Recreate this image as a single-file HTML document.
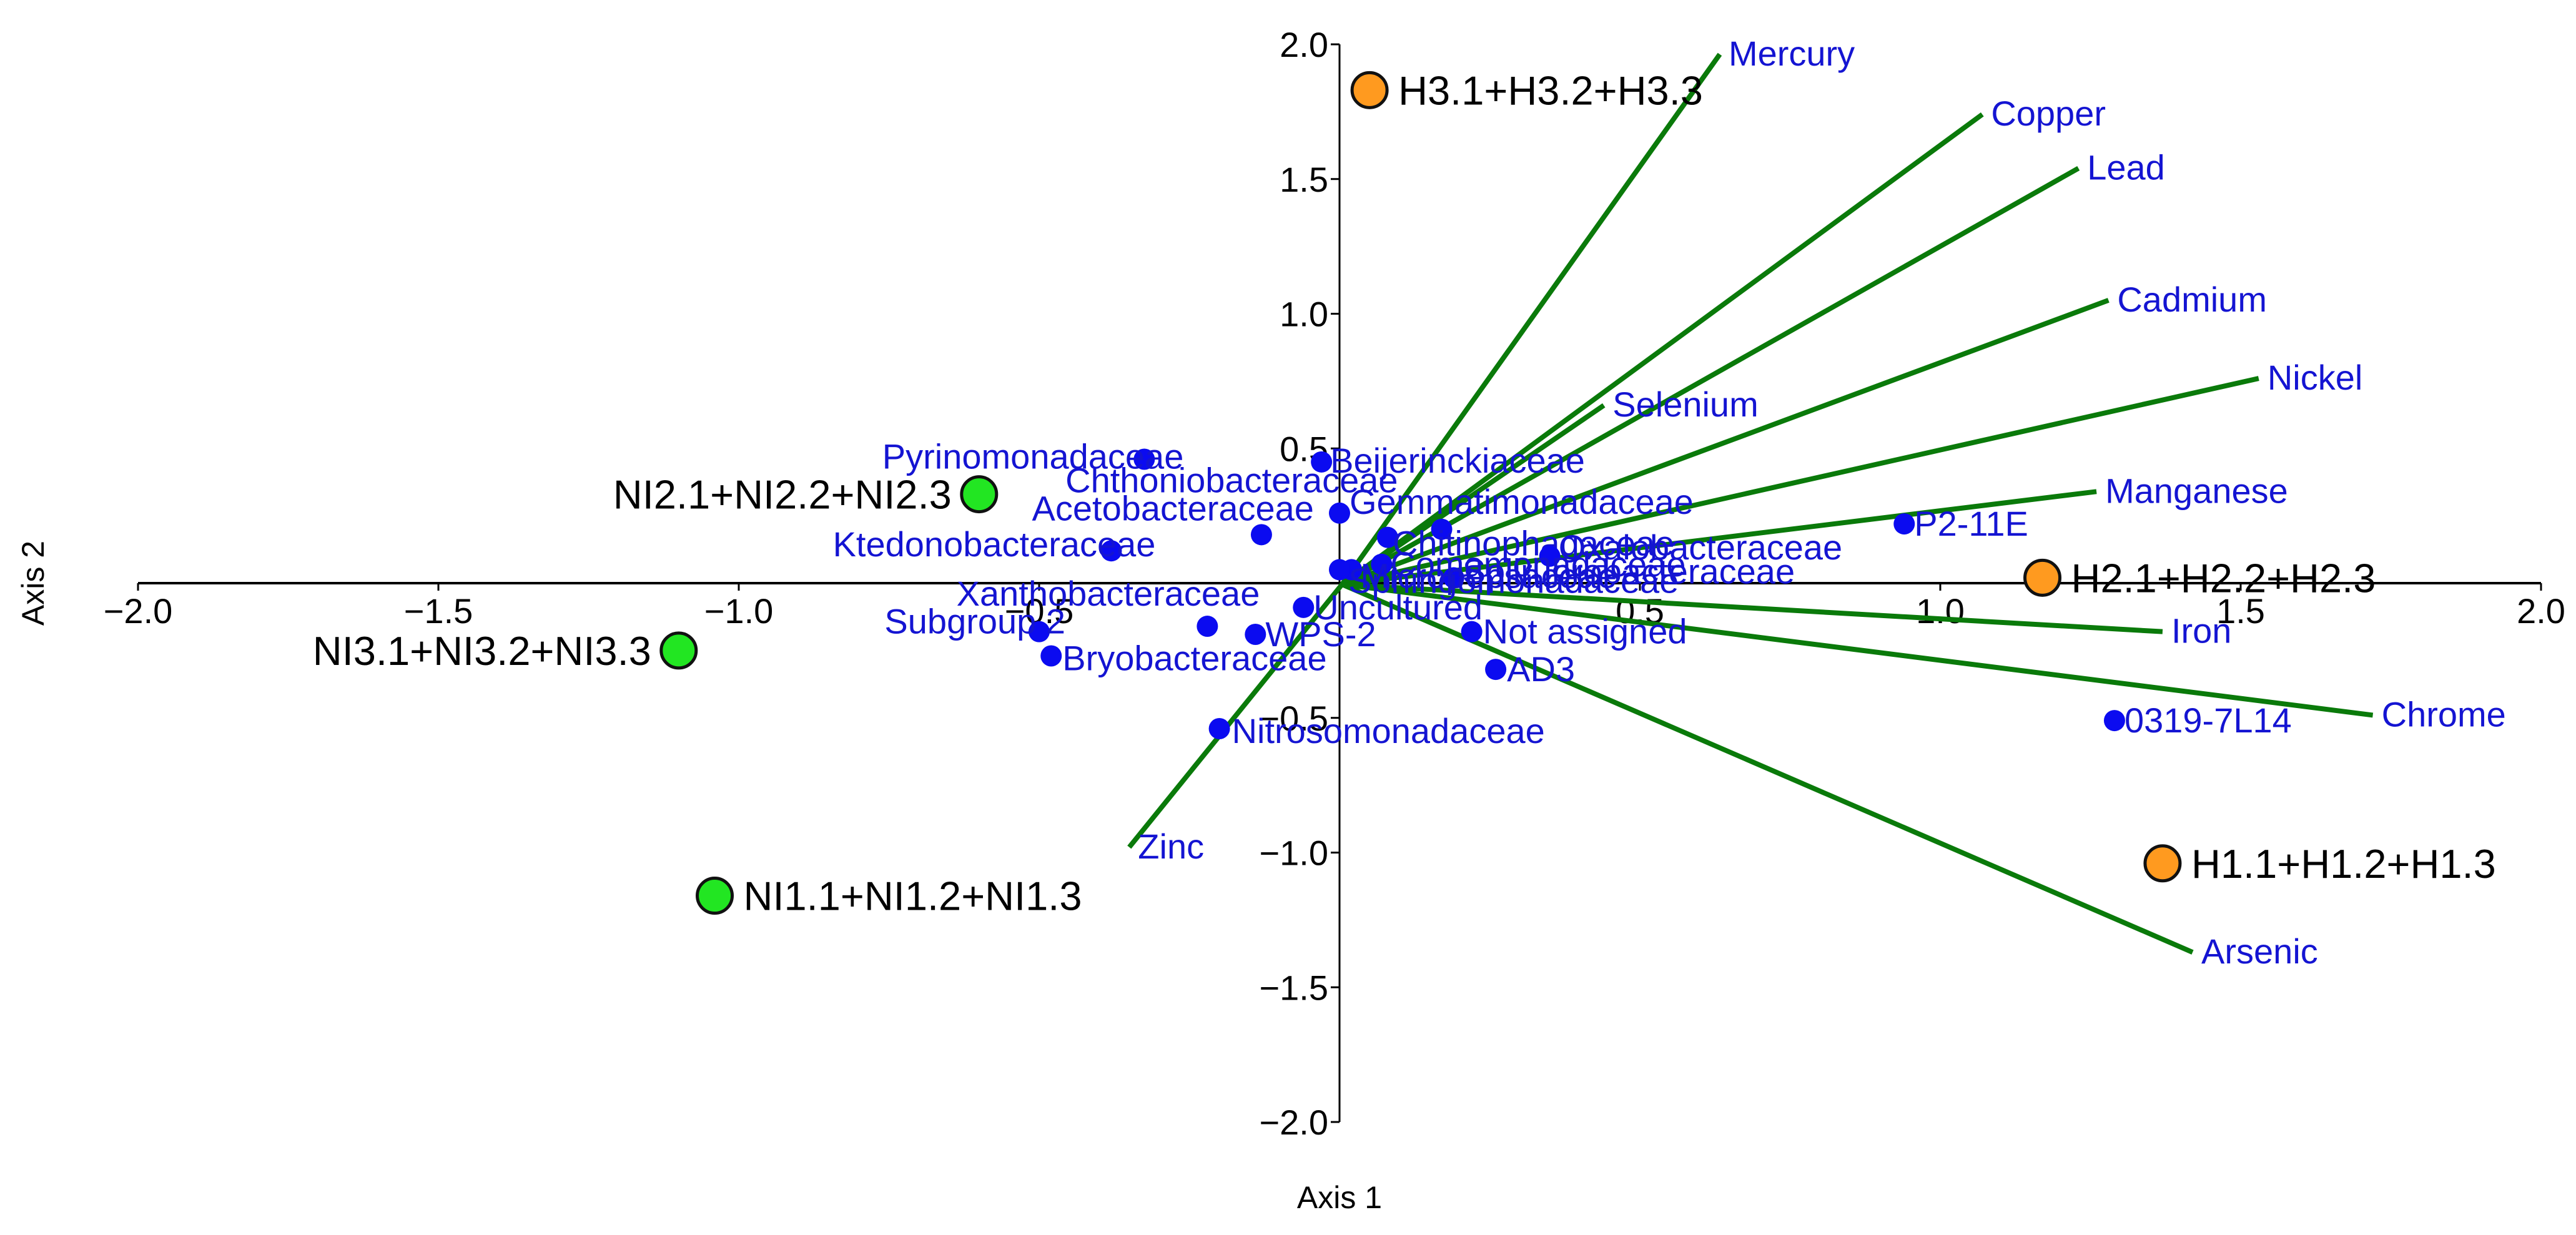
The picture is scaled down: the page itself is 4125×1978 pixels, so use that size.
<!DOCTYPE html>
<html><head><meta charset="utf-8"><style>
html,body{margin:0;padding:0;background:#fff;}
svg{display:block;font-family:"Liberation Sans",Arial,sans-serif;}
</style></head><body>
<svg id="chart" width="4125" height="1978" viewBox="0 0 4125 1978" xmlns="http://www.w3.org/2000/svg">
<g id="axes"></g>
<g id="vectors"></g>
<g id="points"></g>
<g id="groups"></g>
<text x="2145" y="1935" font-size="50" text-anchor="middle">Axis 1</text>
<text x="0" y="0" font-size="50" text-anchor="middle" transform="translate(70,934) rotate(-90)">Axis 2</text>
</svg>
<script>
const xTicks = [-2.0, -1.5, -1.0, -0.5, 0.5, 1.0, 1.5, 2.0];
const yTicks = [2.0, 1.5, 1.0, 0.5, -0.5, -1.0, -1.5, -2.0];
const vecNames = ["Mercury","Copper","Lead","Cadmium","Nickel","Selenium","Manganese","Iron","Chrome","Arsenic","Zinc"];
const vecX = [0.633, 1.07, 1.23, 1.28, 1.53, 0.44, 1.26, 1.37, 1.72, 1.42, -0.35];
const vecY = [1.963, 1.74, 1.54, 1.05, 0.76, 0.66, 0.34, -0.18, -0.49, -1.37, -0.98];
const ptNames = ["Pyrinomonadaceae","Beijerinckiaceae","Gemmatimonadaceae","Acetobacteraceae","Ktedonobacteraceae","Chthoniobacteraceae","Chitinophagaceae","Oxalobacteraceae","Solirubrobacteraceae","Comamonadaceae","Micropepsaceae","Sphingomonadaceae","Uncultured","WPS-2","Xanthobacteraceae","Subgroup 2","Bryobacteraceae","Nitrosomonadaceae","Not assigned","AD3","P2-11E","0319-7L14"];
const ptX = [-0.325, -0.03, 0.0, -0.13, -0.38, 0.17, 0.08, 0.35, 0.19, 0.07, 0.02, 0.0, -0.06, -0.14, -0.22, -0.5, -0.48, -0.2, 0.22, 0.26, 0.94, 1.29];
const ptY = [0.46, 0.45, 0.26, 0.18, 0.12, 0.20, 0.17, 0.10, 0.02, 0.07, 0.05, 0.05, -0.09, -0.19, -0.16, -0.18, -0.27, -0.54, -0.18, -0.32, 0.22, -0.51];
const grpNames = ["H3.1+H3.2+H3.3","H2.1+H2.2+H2.3","H1.1+H1.2+H1.3","NI2.1+NI2.2+NI2.3","NI3.1+NI3.2+NI3.3","NI1.1+NI1.2+NI1.3"];
const grpX = [0.05, 1.17, 1.37, -0.6, -1.1, -1.04];
const grpY = [1.83, 0.02, -1.04, 0.33, -0.25, -1.16];
const grpHeavy = [true, true, true, false, false, false];

// layout (label offsets in px, not data)
const ptLabelAnchor = ["end","start","start","end","end","end","start","start","start","start","start","start","start","start","end","end","start","start","start","start","start","start"];
const ptLabelDx = [63,14,16,84,71,-70,8,14,14,14,14,14,16,16,84,42,18,20,18,18,16,16];
const ptLabelDy = [-4,-2,-18,-42,-10,-78,10,-14,-10,0,10,18,0,0,-52,-16,4,4,0,0,0,0];

const NS = "http://www.w3.org/2000/svg";
const X0 = 2145, Y0 = 934, UX = 962, UY = 431.5;
const sx = v => X0 + v * UX;
const sy = v => Y0 - v * UY;
function mk(tag, attrs, parent){const e=document.createElementNS(NS,tag);for(const k in attrs)e.setAttribute(k,attrs[k]);parent.appendChild(e);return e;}

const axes = document.getElementById('axes');
let e = mk('line',{x1:sx(-2),y1:Y0,x2:sx(2),y2:Y0,stroke:'#000','stroke-width':4},axes);


e = mk('line',{x1:X0,y1:sy(2),x2:X0,y2:sy(-2),stroke:'#000','stroke-width':3},axes);


xTicks.forEach(t=>{
  const tk = mk('line',{x1:sx(t),y1:Y0,x2:sx(t),y2:Y0+12,stroke:'#000','stroke-width':3},axes);
  
  
  const lb = mk('text',{x:sx(t),y:Y0+64,'font-size':56,'text-anchor':'middle'},axes);
  lb.textContent = (t<0?'\u2212':'')+Math.abs(t).toFixed(1);
  
  
});
yTicks.forEach(t=>{
  const tk = mk('line',{x1:X0-14,y1:sy(t),x2:X0,y2:sy(t),stroke:'#000','stroke-width':3},axes);
  
  
  const lb = mk('text',{x:X0-18,y:sy(t)+20,'font-size':56,'text-anchor':'end'},axes);
  lb.textContent = (t<0?'\u2212':'')+Math.abs(t).toFixed(1);
  
  
});

const vg = document.getElementById('vectors');
vecNames.forEach((n,i)=>{
  const l = mk('line',{x1:X0+4,y1:Y0+2,x2:sx(vecX[i]),y2:sy(vecY[i]),stroke:'#0a7a0a','stroke-width':8},vg);
  
  
  const t = mk('text',{x:sx(vecX[i])+14,y:sy(vecY[i])+18,'font-size':56,fill:'#1414d2'},vg);
  t.textContent = n;
  
  
});

const pg = document.getElementById('points');
ptNames.forEach((n,i)=>{
  const c = mk('circle',{cx:sx(ptX[i]),cy:sy(ptY[i]),r:17,fill:'#0b0bf0'},pg);
  
  
  const t = mk('text',{x:sx(ptX[i])+ptLabelDx[i],y:sy(ptY[i])+19+ptLabelDy[i],'font-size':56,fill:'#1414d2','text-anchor':ptLabelAnchor[i]},pg);
  t.textContent = n;
  
  
});

const gg = document.getElementById('groups');
grpNames.forEach((n,i)=>{
  const c = mk('circle',{cx:sx(grpX[i]),cy:sy(grpY[i]),r:28,fill:grpHeavy[i]?'#ff9a1f':'#22e622',stroke:'#111','stroke-width':5},gg);
  
  
  const left = grpX[i] < 0 && grpY[i] > -0.5;
  const t = mk('text',{x:sx(grpX[i])+(left?-44:46),y:sy(grpY[i])+23,'font-size':65,fill:'#000','text-anchor':left?'end':'start'},gg);
  t.textContent = n;
  
  
});
</script>
</body></html>
